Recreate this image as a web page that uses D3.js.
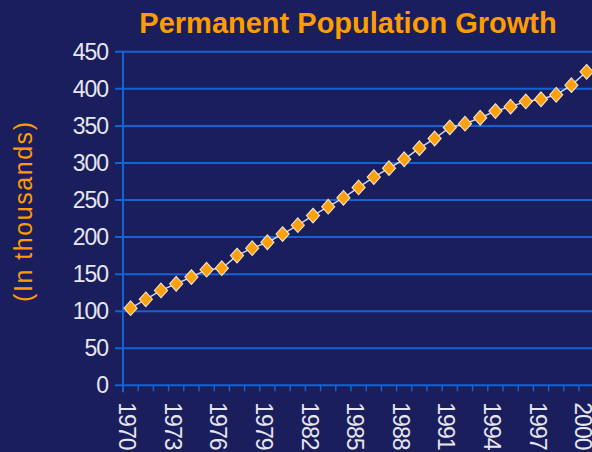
<!DOCTYPE html>
<html>
<head>
<meta charset="utf-8">
<title>Permanent Population Growth</title>
<script src="https://d3js.org/d3.v7.min.js"></script>
<style>
  html, body { margin: 0; padding: 0; background: #1a1c5a; }
  svg { display: block; }
  .tick-label { font-family: "Liberation Sans", Arial, sans-serif; fill: #e6e6ee; }
</style>
</head>
<body>
<div id="chart"></div>
<script>
// data (population in thousands)
var years = d3.range(1970, 2001);
var population = [104, 116, 128, 137, 146, 156, 158, 175, 185, 193,
                  204, 216, 229, 241, 253, 267, 281, 293, 305, 320,
                  333, 348, 353, 361, 370, 376, 383, 386, 392, 405, 423];
var yTicks = [0, 50, 100, 150, 200, 250, 300, 350, 400, 450];
var xLabelYears = [1970, 1973, 1976, 1979, 1982, 1985, 1988, 1991, 1994, 1997, 2000];

var W = 592, H = 452;
var plotLeft = 123, plotBottom = 385.3, plotTop = 51.8, step = 15.2;

var svg = d3.select("#chart").append("svg")
    .attr("width", W)
    .attr("height", H);

svg.append("rect")
    .attr("width", W).attr("height", H)
    .attr("fill", "#1b1e5d");

var x = d3.scaleBand()
    .domain(years)
    .range([plotLeft, plotLeft + years.length * step])
    .padding(0);

var y = d3.scaleLinear()
    .domain([0, 450])
    .range([plotBottom, plotTop]);

// title
svg.append("text")
    .attr("x", 348)
    .attr("y", 33)
    .attr("text-anchor", "middle")
    .attr("font-family", "Liberation Sans, Arial, sans-serif")
    .attr("font-weight", "bold")
    .attr("font-size", 29)
    .attr("fill", "#ff9c00")
    .text("Permanent Population Growth");

// y axis title
svg.append("text")
    .attr("transform", "translate(23,212) rotate(-90)")
    .attr("text-anchor", "middle")
    .attr("dy", "0.35em")
    .attr("font-family", "Liberation Sans, Arial, sans-serif")
    .attr("font-size", 25)
    .attr("textLength", 180)
    .attr("fill", "#ff9c00")
    .text("(In thousands)");

// horizontal grid lines
svg.append("g")
  .selectAll("line")
  .data(yTicks.filter(function(d) { return d > 0; }))
  .join("line")
    .attr("x1", 115)
    .attr("x2", W)
    .attr("y1", function(d) { return y(d); })
    .attr("y2", function(d) { return y(d); })
    .attr("stroke", "#1463d2")
    .attr("stroke-width", 2);

// y axis labels
var yAxis = svg.append("g")
    .attr("transform", "translate(" + plotLeft + ",0)")
    .call(d3.axisLeft(y).tickValues(yTicks).tickSize(0).tickPadding(15));
yAxis.select(".domain").remove();
yAxis.selectAll("text")
    .attr("class", "tick-label")
    .attr("font-size", 23)
    .attr("letter-spacing", "-1px");

// axis lines
svg.append("line")
    .attr("x1", plotLeft).attr("x2", plotLeft)
    .attr("y1", plotTop).attr("y2", plotBottom + 7)
    .attr("stroke", "#1463d2").attr("stroke-width", 2);
svg.append("line")
    .attr("x1", 115).attr("x2", W)
    .attr("y1", plotBottom).attr("y2", plotBottom)
    .attr("stroke", "#1463d2").attr("stroke-width", 2);

// tick marks on the category boundaries
svg.append("g")
  .selectAll("line")
  .data(years)
  .join("line")
    .attr("x1", function(d) { return x(d) + step; })
    .attr("x2", function(d) { return x(d) + step; })
    .attr("y1", plotBottom)
    .attr("y2", plotBottom + 6)
    .attr("stroke", "#1463d2")
    .attr("stroke-width", 1.5);

// x axis labels, rotated
var xAxis = svg.append("g")
    .attr("transform", "translate(0," + plotBottom + ")")
    .call(d3.axisBottom(x).tickValues(xLabelYears).tickSize(0));
xAxis.select(".domain").remove();
xAxis.selectAll("text")
    .attr("class", "tick-label")
    .attr("font-size", 23)
    .attr("letter-spacing", "-1px")
    .attr("transform", "rotate(90)")
    .attr("x", 17)
    .attr("y", 0)
    .attr("dy", "0.5em")
    .attr("text-anchor", "start");

// connecting line
var line = d3.line()
    .x(function(d, i) { return x(years[i]) + x.bandwidth() / 2; })
    .y(function(d) { return y(d); });

svg.append("path")
    .datum(population)
    .attr("d", line)
    .attr("fill", "none")
    .attr("stroke", "#d4d4dc")
    .attr("stroke-width", 1.5);

// diamond markers (slightly taller than wide)
svg.append("g")
  .selectAll("path")
  .data(population)
  .join("path")
    .attr("transform", function(d, i) {
      return "translate(" + (x(years[i]) + x.bandwidth() / 2) + "," + y(d) + ") scale(1,1.12)";
    })
    .attr("d", d3.symbol(d3.symbolDiamond2, 110))
    .attr("fill", "#ffa00a")
    .attr("stroke", "#f0e8d8")
    .attr("stroke-width", 1);
</script>
</body>
</html>
